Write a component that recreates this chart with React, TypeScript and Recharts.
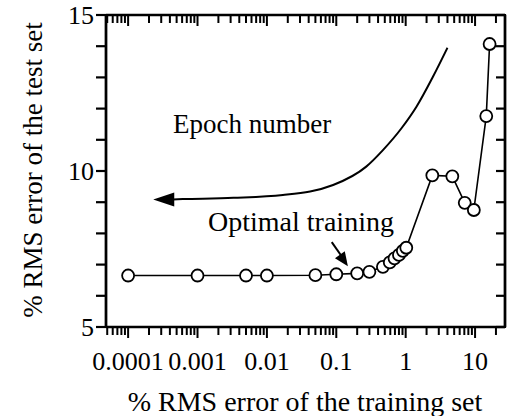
import React from "react"
import { ComposedChart, Line, XAxis, YAxis, ReferenceDot, ReferenceArea } from "recharts"

const FONT = '"Liberation Serif", "Times New Roman", serif'

// measured points: % RMS error of training set vs test set
const trainErr = [0.0001, 0.001, 0.005, 0.01, 0.05, 0.1, 0.2, 0.3, 0.47, 0.59, 0.69, 0.8, 0.91, 1.02, 2.42, 4.7, 7.1, 9.6, 14.5, 16.2]
const testErr = [6.65, 6.65, 6.65, 6.65, 6.66, 6.69, 6.72, 6.77, 6.93, 7.07, 7.2, 7.31, 7.44, 7.54, 9.86, 9.83, 8.98, 8.75, 11.76, 14.07]

// "Epoch number" curved arrow
const epochX = [0.00044, 0.00063, 0.0033, 0.017, 0.09, 0.27, 0.47, 0.87, 1.43, 2.47, 4.0]
const epochY = [9.09, 9.1, 9.14, 9.23, 9.55, 10.14, 10.67, 11.37, 12.06, 13.02, 13.95]
const epochTip = { x: 0.00023, y: 9.09 }

// "Optimal training" arrow
const optX = [0.086, 0.135]
const optY = [7.72, 7.1]
const optTip = { x: 0.147, y: 6.95 }

const xMajor = [0.0001, 0.001, 0.01, 0.1, 1, 10]
const xTickLabels = ["0.0001", "0.001", "0.01", "0.1", "1", "10"]
const yTicks = [5, 6, 7, 8, 9, 10, 11, 12, 13, 14, 15]
const yTickLabels = ["5", "10", "15"]

const X_DOMAIN: [number, number] = [4.8e-5, 27]
const Y_DOMAIN: [number, number] = [5, 15]

const decades = [0.00001, 0.0001, 0.001, 0.01, 0.1, 1, 10]
const xTicks = decades
  .flatMap((d) => [1, 2, 3, 4, 5, 6, 7, 8, 9].map((m) => m * d))
  .filter((v) => v >= X_DOMAIN[0] && v <= X_DOMAIN[1])

const data = trainErr.map((x, i) => ({ x, y: testErr[i] }))
const epochData = epochX.map((x, i) => ({ x, y: epochY[i] }))
const optData = optX.map((x, i) => ({ x, y: optY[i] }))

const majorIndex = (v: number) => xMajor.findIndex((m) => Math.abs(m - v) / m < 1e-6)

const BottomTick = (props: any) => {
  const { x, y, payload } = props
  const idx = majorIndex(payload.value)
  return (
    <g>
      <line x1={x} x2={x} y1={y} y2={y + (idx >= 0 ? 11 : 8)} stroke="#000" strokeWidth={2} />
      {idx >= 0 && (
        <text x={x} y={y + 43} textAnchor="middle" fontSize={26} fontFamily={FONT} fill="#000">
          {xTickLabels[idx]}
        </text>
      )}
    </g>
  )
}

const TopTick = (props: any) => {
  const { x, y, payload } = props
  const idx = majorIndex(payload.value)
  return <line x1={x} x2={x} y1={y} y2={y + (idx >= 0 ? 11 : 8)} stroke="#000" strokeWidth={2} />
}

const LeftTick = (props: any) => {
  const { x, y, payload } = props
  const label = yTickLabels.find((t) => Number(t) === payload.value)
  return (
    <g>
      <line x1={x - 10} x2={x} y1={y} y2={y} stroke="#000" strokeWidth={2.2} />
      {label && (
        <text x={x - 12} y={y + 9} textAnchor="end" fontSize={26} fontFamily={FONT} fill="#000">
          {label}
        </text>
      )}
    </g>
  )
}

const RightTick = (props: any) => {
  const { x, y } = props
  return <line x1={x - 9} x2={x} y1={y} y2={y} stroke="#000" strokeWidth={2.2} />
}

const arrowHead = (angle: number, len: number, half: number) => (props: any) => {
  const { cx, cy } = props
  return (
    <polygon
      points={`0,0 ${-len},${-half} ${-len},${half}`}
      transform={`translate(${cx},${cy}) rotate(${angle})`}
      fill="#000"
    />
  )
}

const textAt = (label: string, size: number) => (props: any) => (
  <text x={props.cx} y={props.cy} fontSize={size} fontFamily={FONT} fill="#000">
    {label}
  </text>
)

const AXIS = { stroke: "#000", strokeWidth: 2.6 }

export default function App() {
  return (
    <div style={{ width: 507, height: 416 }}>
      <style>{"body{margin:0;overflow:hidden;background:#fff}"}</style>
      <ComposedChart width={507} height={416} data={data} margin={{ top: 14, right: 1, left: 0, bottom: 0 }}>
        <XAxis
          dataKey="x"
          type="number"
          scale="log"
          domain={X_DOMAIN}
          allowDataOverflow
          ticks={xTicks}
          interval={0}
          height={89}
          tickSize={0}
          tickMargin={0}
          tickLine={false}
          axisLine={AXIS}
          tick={<BottomTick />}
          label={{
            content: () => (
              <text x={305} y={411} textAnchor="middle" fontSize={28} fontFamily={FONT} fill="#000">
                % RMS error of the training set
              </text>
            ),
          }}
        />
        <XAxis
          xAxisId="top"
          orientation="top"
          dataKey="x"
          type="number"
          scale="log"
          domain={X_DOMAIN}
          allowDataOverflow
          ticks={xTicks}
          interval={0}
          height={1}
          tickSize={0}
          tickMargin={0}
          tickLine={false}
          axisLine={AXIS}
          tick={<TopTick />}
        />
        <YAxis
          type="number"
          domain={Y_DOMAIN}
          allowDataOverflow
          ticks={yTicks}
          interval={0}
          width={106}
          tickSize={0}
          tickMargin={0}
          tickLine={false}
          axisLine={AXIS}
          tick={<LeftTick />}
          label={{
            content: () => (
              <text
                x={0}
                y={0}
                transform="translate(33,170) rotate(-90)"
                textAnchor="middle"
                dominantBaseline="central"
                fontSize={27}
                fontFamily={FONT}
                fill="#000"
              >
                % RMS error of the test set
              </text>
            ),
          }}
        />
        <YAxis
          yAxisId="right"
          orientation="right"
          type="number"
          domain={Y_DOMAIN}
          allowDataOverflow
          ticks={yTicks}
          interval={0}
          width={1}
          tickSize={0}
          tickMargin={0}
          tickLine={false}
          axisLine={AXIS}
          tick={<RightTick />}
        />

        <ReferenceArea
          x1={X_DOMAIN[0]}
          x2={X_DOMAIN[1]}
          y1={Y_DOMAIN[0]}
          y2={Y_DOMAIN[1]}
          fill="none"
          stroke="#000"
          strokeWidth={2.2}
          ifOverflow="visible"
        />

        <Line
          xAxisId="top"
          yAxisId="right"
          data={epochData}
          dataKey="y"
          type="monotone"
          stroke="#000"
          strokeWidth={2}
          dot={false}
          activeDot={false}
          isAnimationActive={false}
        />
        <ReferenceDot x={epochTip.x} y={epochTip.y} shape={arrowHead(180, 21, 7)} ifOverflow="visible" />

        <Line
          data={optData}
          dataKey="y"
          type="linear"
          stroke="#000"
          strokeWidth={2}
          dot={false}
          activeDot={false}
          isAnimationActive={false}
        />
        <ReferenceDot x={optTip.x} y={optTip.y} shape={arrowHead(55, 14, 6)} ifOverflow="visible" />

        <ReferenceDot x={0.000444} y={11.22} shape={textAt("Epoch number", 27)} ifOverflow="visible" />
        <ReferenceDot x={0.00142} y={8.08} shape={textAt("Optimal training", 28)} ifOverflow="visible" />

        <Line
          dataKey="y"
          type="linear"
          stroke="#000"
          strokeWidth={1.6}
          dot={{ r: 6, fill: "#fff", stroke: "#000", strokeWidth: 1.8 }}
          activeDot={false}
          isAnimationActive={false}
        />
      </ComposedChart>
    </div>
  )
}
